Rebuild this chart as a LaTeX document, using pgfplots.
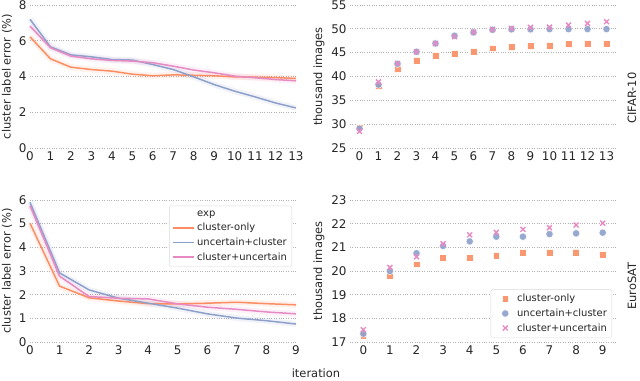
\documentclass[border=0pt]{standalone}
\usepackage{pgfplots}
\pgfplotsset{compat=1.18}
\usepackage{fontspec}
\setmainfont{DejaVu Sans}

\definecolor{corange}{HTML}{FC8D62}
\definecolor{cblue}{HTML}{8DA0CB}
\definecolor{cpink}{HTML}{E78AC3}
\definecolor{txt}{gray}{0.15}

\newcommand{\tickfont}{\fontsize{12}{14}\selectfont}

\pgfplotsset{
  panel/.style={
    scale only axis, width=266bp, height=143bp,
    axis line style={draw=none}, tick style={draw=none},
    ymajorgrids, grid style={dotted, gray!60, line width=0.8pt},
    tick label style={font=\tickfont, text=txt},
    label style={font=\fontsize{11.5}{13}\selectfont, text=txt},
    /pgf/number format/assume math mode=true,
    xtick distance=1, clip=false,
    legend cell align=left,
    legend style={font=\fontsize{10}{12}\selectfont, text=txt, draw=gray!30,
      rounded corners=2pt, inner sep=3pt, row sep=1.5pt},
    legend image code/.code={\draw[#1] (0cm,0cm) -- (0.75cm,0cm);},
  },
  errline/.style={line width=1.5pt},
  band/.style={line width=6pt, opacity=0.12, forget plot},
  msq/.style={only marks, mark=square*, mark size=3.4pt, mark options={fill=corange, draw=white, line width=0.5pt, opacity=0.9}},
  mci/.style={only marks, mark=*, mark size=3.7pt, mark options={fill=cblue, draw=white, line width=0.5pt, opacity=0.9}},
  mx/.style={only marks, mark=x, mark size=3.5pt, mark options={draw=cpink, line width=1.4pt}},
}

\begin{document}
\begin{tikzpicture}
\path[use as bounding box] (0,0) rectangle (640bp,381bp);

% CIFAR-10 error
\begin{axis}[panel, at={(30bp,233bp)}, anchor=south west,
  xmin=0, xmax=13, ymin=0, ymax=8, ytick={0,2,4,6,8},
  ylabel={cluster label error (\%)}]
\addplot[band, corange] coordinates {(0,6.22)(1,4.99)(2,4.52)(3,4.39)(4,4.30)(5,4.13)(6,4.04)(7,4.09)(8,4.07)(9,4.04)(10,3.98)(11,3.96)(12,3.94)(13,3.89)};
\addplot[band, cblue] coordinates {(0,7.20)(1,5.66)(2,5.21)(3,5.10)(4,4.95)(5,4.92)(6,4.67)(7,4.39)(8,3.98)(9,3.55)(10,3.18)(11,2.86)(12,2.52)(13,2.24)};
\addplot[band, cpink] coordinates {(0,6.82)(1,5.61)(2,5.14)(3,4.99)(4,4.90)(5,4.86)(6,4.77)(7,4.58)(8,4.36)(9,4.21)(10,4.02)(11,3.93)(12,3.83)(13,3.76)};
\addplot[errline, corange] coordinates {(0,6.22)(1,4.99)(2,4.52)(3,4.39)(4,4.30)(5,4.13)(6,4.04)(7,4.09)(8,4.07)(9,4.04)(10,3.98)(11,3.96)(12,3.94)(13,3.89)};
\addplot[errline, cblue] coordinates {(0,7.20)(1,5.66)(2,5.21)(3,5.10)(4,4.95)(5,4.92)(6,4.67)(7,4.39)(8,3.98)(9,3.55)(10,3.18)(11,2.86)(12,2.52)(13,2.24)};
\addplot[errline, cpink] coordinates {(0,6.82)(1,5.61)(2,5.14)(3,4.99)(4,4.90)(5,4.86)(6,4.77)(7,4.58)(8,4.36)(9,4.21)(10,4.02)(11,3.93)(12,3.83)(13,3.76)};
\end{axis}

% CIFAR-10 images
\begin{axis}[panel, at={(350bp,233bp)}, anchor=south west,
  xmin=-0.5, xmax=13.5, ymin=25, ymax=55, ytick={25,30,...,55},
  ylabel={thousand images}]
\addplot[msq] coordinates {(0,29.35)(1,37.96)(2,41.54)(3,43.36)(4,44.34)(5,44.76)(6,45.18)(7,45.95)(8,46.16)(9,46.37)(10,46.51)(11,46.79)(12,46.93)(13,46.93)};
\addplot[mci] coordinates {(0,29.06)(1,38.30)(2,42.66)(3,45.18)(4,46.93)(5,48.55)(6,49.25)(7,49.80)(8,49.90)(9,49.90)(10,49.95)(11,49.95)(12,49.95)(13,49.95)};
\addplot[mx] coordinates {(0,28.50)(1,38.87)(2,42.73)(3,45.18)(4,46.93)(5,48.34)(6,49.32)(7,49.88)(8,50.09)(9,50.30)(10,50.37)(11,50.79)(12,51.14)(13,51.49)};
\end{axis}

% EuroSAT error
\begin{axis}[panel, at={(30bp,39bp)}, anchor=south west, height=142bp,
  xmin=0, xmax=9, ymin=0, ymax=6, ytick={0,...,6},
  ylabel={cluster label error (\%)},
  legend style={at={(0.985,0.96)}, anchor=north east}]
\addlegendimage{empty legend}\addlegendentry{exp}
\addplot[band, corange] coordinates {(0,5.02)(1,2.36)(2,1.87)(3,1.73)(4,1.62)(5,1.61)(6,1.64)(7,1.68)(8,1.62)(9,1.57)};
\addplot[band, cblue] coordinates {(0,5.90)(1,2.92)(2,2.20)(3,1.85)(4,1.64)(5,1.43)(6,1.19)(7,1.01)(8,0.90)(9,0.76)};
\addplot[band, cpink] coordinates {(0,5.76)(1,2.78)(2,1.92)(3,1.85)(4,1.82)(5,1.61)(6,1.47)(7,1.38)(8,1.27)(9,1.19)};
\addplot[errline, corange] coordinates {(0,5.02)(1,2.36)(2,1.87)(3,1.73)(4,1.62)(5,1.61)(6,1.64)(7,1.68)(8,1.62)(9,1.57)};
\addlegendentry{cluster-only}
\addplot[errline, cblue] coordinates {(0,5.90)(1,2.92)(2,2.20)(3,1.85)(4,1.64)(5,1.43)(6,1.19)(7,1.01)(8,0.90)(9,0.76)};
\addlegendentry{uncertain+cluster}
\addplot[errline, cpink] coordinates {(0,5.76)(1,2.78)(2,1.92)(3,1.85)(4,1.82)(5,1.61)(6,1.47)(7,1.38)(8,1.27)(9,1.19)};
\addlegendentry{cluster+uncertain}
\end{axis}

% EuroSAT images
\begin{axis}[panel, at={(350bp,39bp)}, anchor=south west, height=142bp,
  xmin=-0.5, xmax=9.5, ymin=17, ymax=23, ytick={17,...,23},
  ylabel={thousand images},
  legend style={at={(0.985,0.03)}, anchor=south east},
  legend image code/.code={\path[draw=none] (0cm,0cm) -- (0.75cm,0cm); \draw[#1] plot coordinates {(0.4cm,0cm)};}]
\addplot[msq] coordinates {(0,17.28)(1,19.81)(2,20.29)(3,20.55)(4,20.55)(5,20.64)(6,20.78)(7,20.78)(8,20.78)(9,20.69)};
\addlegendentry{cluster-only}
\addplot[mci] coordinates {(0,17.35)(1,20.00)(2,20.75)(3,21.06)(4,21.25)(5,21.45)(6,21.45)(7,21.56)(8,21.59)(9,21.62)};
\addlegendentry{uncertain+cluster}
\addplot[mx] coordinates {(0,17.52)(1,20.15)(2,20.60)(3,21.15)(4,21.53)(5,21.63)(6,21.76)(7,21.83)(8,21.94)(9,22.02)};
\addlegendentry{cluster+uncertain}
\end{axis}

\node[font=\fontsize{11.5}{13}\selectfont, text=txt, rotate=90] at (632bp,283bp) {CIFAR-10};
\node[font=\fontsize{11.5}{13}\selectfont, text=txt, rotate=90] at (632bp,95bp) {EuroSAT};
\node[font=\fontsize{11.5}{13}\selectfont, text=txt] at (316bp,8bp) {iteration};
\end{tikzpicture}
\end{document}
